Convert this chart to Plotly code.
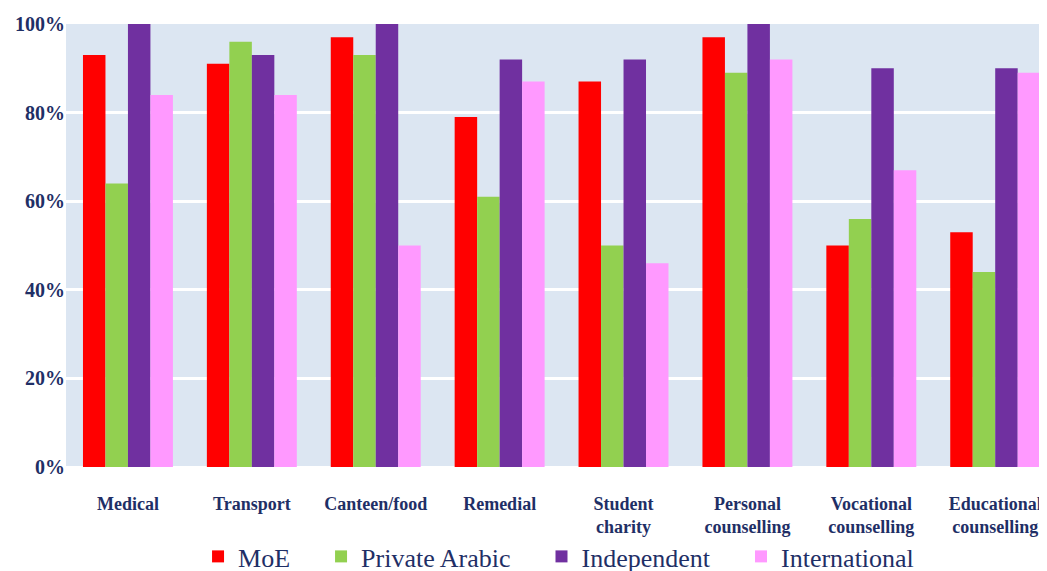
import plotly.graph_objects as go

categories = ["Medical", "Transport", "Canteen/food", "Remedial", "Student<br>charity",
              "Personal<br>counselling", "Vocational<br>counselling", "Educational<br>counselling"]
moe = [93, 91, 97, 79, 87, 97, 50, 53]
private_arabic = [64, 96, 93, 61, 50, 89, 56, 44]
independent = [100, 93, 100, 92, 92, 100, 90, 90]
international = [84, 84, 50, 87, 46, 92, 67, 89]
y_ticks = [0, 20, 40, 60, 80, 100]
y_tick_labels = ["0%", "20%", "40%", "60%", "80%", "100%"]

pad = "\u00a0\u00a0\u00a0\u00a0"
series = [("MoE" + pad, moe, "#FF0000"),
          ("Private Arabic" + pad, private_arabic, "#92D050"),
          ("Independent" + pad, independent, "#7030A0"),
          ("International", international, "#FF99FF")]

navy = "#1F2F66"
serif = "Liberation Serif, Times New Roman, serif"
fig = go.Figure()
for name, vals, col in series:
    fig.add_trace(go.Bar(name=name, x=categories, y=vals, marker=dict(color=col, line=dict(width=0))))

fig.update_layout(
    width=1047, height=571,
    margin=dict(l=58, r=8, t=16, b=112, autoexpand=False),
    paper_bgcolor="white", plot_bgcolor="#DCE6F2",
    barmode="group", bargap=0.274, bargroupgap=0,
    font=dict(family=serif, color=navy),
    showlegend=True,
    legend=dict(orientation="h", x=0.1346, xanchor="left", y=-0.202, yanchor="middle",
                font=dict(size=26, family=serif, color=navy),
                bgcolor="rgba(0,0,0,0)", itemclick=False),
)
fig.update_xaxes(range=[-0.5, 7.418], showgrid=False, ticks="outside", ticklen=20,
                 tickcolor="rgba(0,0,0,0)", showline=False, automargin=False,
                 tickfont=dict(size=18, family=serif, color=navy, weight="bold"))
fig.update_yaxes(range=[0, 100], tickvals=y_ticks, ticktext=y_tick_labels, automargin=False,
                 showgrid=True, gridcolor="white", gridwidth=3,
                 zeroline=True, zerolinecolor="white", zerolinewidth=3,
                 tickfont=dict(size=20, family=serif, color=navy, weight="bold"))

fig.write_html("out.html")
